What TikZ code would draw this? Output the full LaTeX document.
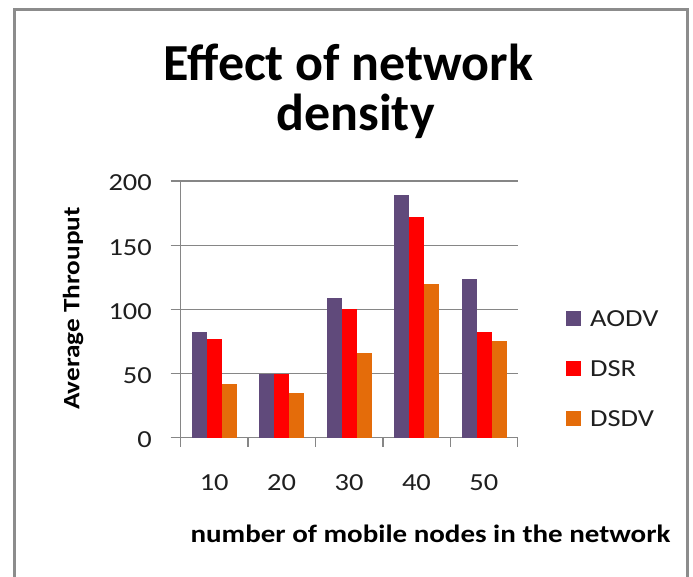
\documentclass[tikz,border=0pt]{standalone}
\usepackage{fontspec}
\setmainfont{Carlito}
\newfontfamily\widecarlito[FakeStretch=1.16]{Carlito}
\definecolor{aodv}{HTML}{604A7B}
\definecolor{dsr}{HTML}{FF0000}
\definecolor{dsdv}{HTML}{E46C0A}
\definecolor{frame}{HTML}{8C8C8C}
\definecolor{grid}{HTML}{868686}
\begin{document}
\begin{tikzpicture}[x=1pt,y=-1pt,
  framebox/.style={draw=frame,line width=2.5pt},
  gridline/.style={draw=grid,line width=1.3pt},
  ticklabel/.style={font=\widecarlito\fontsize{24.5}{28}\selectfont,text=black!88,inner sep=0pt},
  ytitle/.style={font=\widecarlito\fontsize{23.5}{28}\selectfont\bfseries,inner sep=0pt},
  xtitle/.style={font=\widecarlito\fontsize{25}{28}\selectfont\bfseries,inner sep=0pt},
  titletext/.style={font=\fontsize{52}{62}\selectfont\bfseries,inner sep=0pt},
  legendkey/.style={minimum size=15pt,inner sep=0pt,draw=none}]
\useasboundingbox (0,0) rectangle (693,576);
\fill[white] (0,0) rectangle (693,576);
% outer frame, open at the bottom
\draw[framebox] (14.5,580) -- (14.5,9.5) -- (687.5,9.5) -- (687.5,580);
% title
\node[titletext,anchor=base] (t1) at (348.5,80) {Effect of network};
\node[titletext,anchor=base] (t2) at (355.5,130) {density};
% horizontal grid and value ticks
\foreach \v in {0,50,100,150,200}{
  \draw[gridline] (170.7,{437.7-\v*1.2835}) -- (517.7,{437.7-\v*1.2835});
  \node[ticklabel,anchor=east] (y\v) at (152,{439.7-\v*1.2835}) {\v};
}
% vertical axis
\draw[gridline] (180.7,181) -- (180.7,437.7);
% category ticks
\foreach \i in {0,...,5}
  \draw[gridline] ({180.7+67.4*\i},437.7) -- ({180.7+67.4*\i},446.7);
% bars: AODV, DSR, DSDV per category
\foreach \a/\b/\c [count=\i from 0] in {82/77/42, 50/50/35, 109/100/66, 189/172/120, 124/82/75}{
  \pgfmathsetmacro{\x}{180.7+67.4*\i+11.2}
  \fill[aodv] (\x,437.7) rectangle ({\x+15},{437.7-\a*1.2835});
  \fill[dsr]  ({\x+15},437.7) rectangle ({\x+30},{437.7-\b*1.2835});
  \fill[dsdv] ({\x+30},437.7) rectangle ({\x+45},{437.7-\c*1.2835});
}
% category labels
\foreach \n [count=\i from 0] in {10,20,30,40,50}
  \node[ticklabel] (x\n) at ({214.2+67.4*\i},482.5) {\n};
% axis titles
\node[ytitle,rotate=90] (ylab) at (73,308.5) {Average Throuput};
\node[xtitle,anchor=base] (xlab) at (430.5,542) {number of mobile nodes in the network};
% legend
\node[legendkey,fill=aodv] (k1) at (573,318.5) {};
\node[legendkey,fill=dsr]  (k2) at (573,368.5) {};
\node[legendkey,fill=dsdv] (k3) at (573,418.5) {};
\node[ticklabel,anchor=west] (l1) at (590,319) {AODV};
\node[ticklabel,anchor=west] (l2) at (590,369) {DSR};
\node[ticklabel,anchor=west] (l3) at (590,419) {DSDV};
\end{tikzpicture}
\end{document}
